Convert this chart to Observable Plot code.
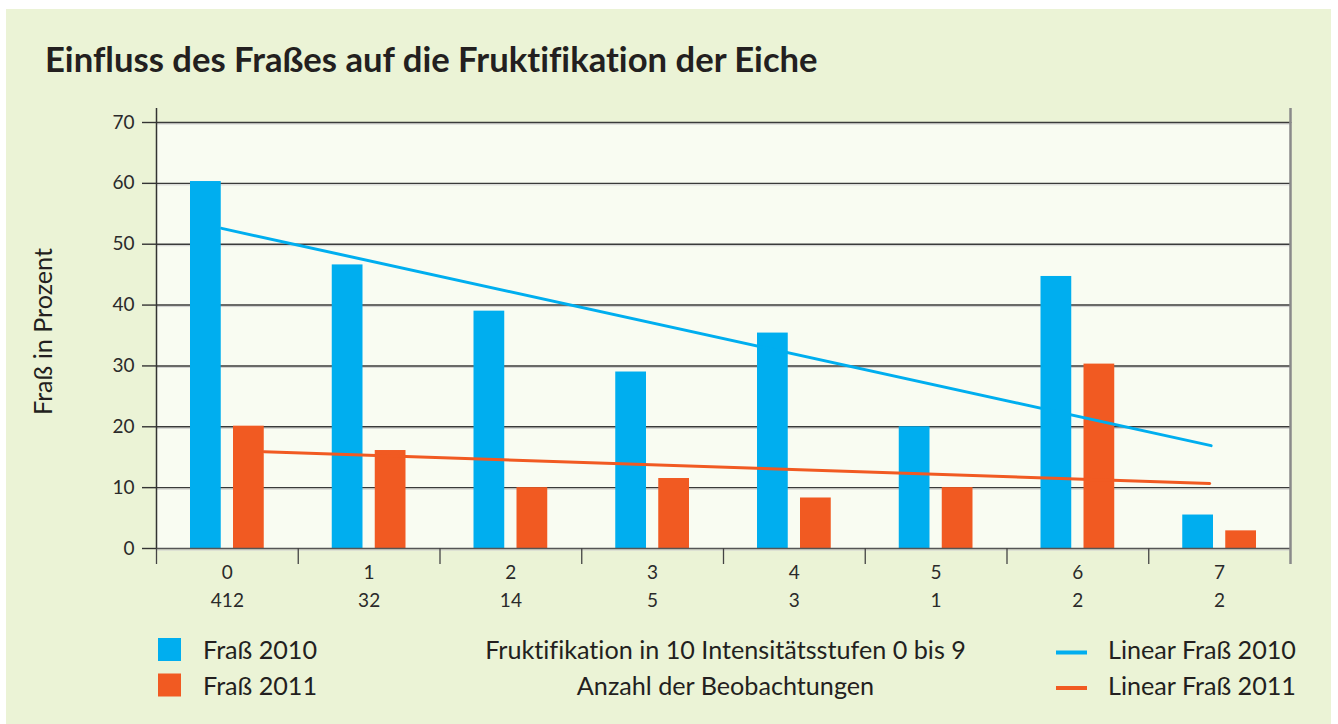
<!DOCTYPE html>
<html>
<head>
<meta charset="utf-8">
<script src="https://cdn.jsdelivr.net/npm/d3@7"></script>
<script src="https://cdn.jsdelivr.net/npm/@observablehq/plot@0.6"></script>
<style>
  html, body { margin: 0; padding: 0; background: #ffffff; }
  body { width: 1338px; height: 724px; position: relative; overflow: hidden; font-family: Lato, "Open Sans", sans-serif; }
  svg, svg text { font-variant-ligatures: none; font-feature-settings: "liga" 0, "clig" 0; }
  #bg { position: absolute; left: 0; top: 0; }
  #chart { position: absolute; left: 6px; top: 95px; }
  #overlay { position: absolute; left: 0; top: 0; pointer-events: none; }
</style>
</head>
<body>
<svg id="bg" width="1338" height="724"><rect x="6" y="9" width="1325" height="715" fill="#ebf3d6"></rect></svg>
<div id="chart"></div>
<svg id="overlay" width="1338" height="724"></svg>
<script>
// ---- data ----
const categories = ["0", "1", "2", "3", "4", "5", "6", "7"];
const observations = ["412", "32", "14", "5", "3", "1", "2", "2"];
const fras2010 = [60.3, 46.6, 39.0, 29.0, 35.4, 20.0, 44.7, 5.5];
const fras2011 = [20.1, 16.1, 10.0, 11.5, 8.3, 10.0, 30.3, 2.9];
const trend2010X = [0.46, 7.44];
const trend2010Y = [52.6, 16.9];
const trend2011X = [0.76, 7.43];
const trend2011Y = [15.9, 10.7];
const yTicks = [0, 10, 20, 30, 40, 50, 60, 70];

const titleText = "Einfluss des Fraßes auf die Fruktifikation der Eiche";
const yLabel = "Fraß in Prozent";
const xTitle1 = "Fruktifikation in 10 Intensitätsstufen 0 bis 9";
const xTitle2 = "Anzahl der Beobachtungen";
const seriesNames = ["Fraß 2010", "Fraß 2011"];
const trendNames = ["Linear Fraß 2010", "Linear Fraß 2011"];

const BLUE = "#00aeef";
const ORANGE = "#f15a22";
const INK = "#231f20";

const rows = categories.map((c, i) => ({i, j: i + 1, m: i + 0.5, c, n: observations[i], a: fras2010[i], b: fras2011[i]}));
const t2010 = trend2010X.map((x, k) => ({x, y: trend2010Y[k]}));
const t2011 = trend2011X.map((x, k) => ({x, y: trend2011Y[k]}));
const boundaries = d3.range(0, categories.length);
const grid = yTicks.filter(v => v > 0);

const chart = Plot.plot({
  width: 1325,
  height: 530,
  marginLeft: 150,
  marginRight: 41,
  marginTop: 27,
  marginBottom: 77,
  x: {type: "linear", domain: [0, categories.length], axis: null},
  y: {domain: [0, 70], axis: null},
  style: {fontFamily: "Lato, sans-serif", background: "transparent", color: INK, overflow: "visible"},
  marks: [
    Plot.frame({fill: "#f9fcf2", stroke: null}),
    Plot.gridY(grid, {stroke: "#cfcfcf", strokeOpacity: 1, strokeWidth: 1, dy: 1.5}),
    Plot.gridY(grid, {stroke: "#3a3a3a", strokeOpacity: 1, strokeWidth: 1.4}),
    Plot.rectY(rows, {x1: "i", x2: "j", y: "a", fill: BLUE, insetLeft: 34, insetRight: 77}),
    Plot.rectY(rows, {x1: "i", x2: "j", y: "b", fill: ORANGE, insetLeft: 77, insetRight: 34}),
    Plot.ruleY([0], {stroke: "#cfcfcf", strokeWidth: 1, dy: 1.5}),
    Plot.ruleY([0], {stroke: "#555", strokeWidth: 1.6}),
    Plot.line(t2010, {x: "x", y: "y", stroke: BLUE, strokeWidth: 3}),
    Plot.line(t2011, {x: "x", y: "y", stroke: ORANGE, strokeWidth: 3}),
    Plot.ruleX([0], {stroke: "#333", strokeWidth: 1.5}),
    Plot.ruleX([categories.length], {stroke: "#8a8a8a", strokeWidth: 2.5}),
    Plot.axisX({ticks: boundaries, tickSize: 16, tickFormat: () => "", stroke: "#444", strokeWidth: 1.3, label: null}),
    Plot.axisX({ticks: [categories.length], tickSize: 16, tickFormat: () => "", stroke: "#8a8a8a", strokeWidth: 2.5, label: null}),
    Plot.axisX({anchor: "top", ticks: [0], tickSize: 15, tickFormat: () => "", stroke: "#333", strokeWidth: 1.5, label: null}),
    Plot.axisX({anchor: "top", ticks: [categories.length], tickSize: 15, tickFormat: () => "", stroke: "#8a8a8a", strokeWidth: 2.5, label: null}),
    Plot.axisY({ticks: yTicks, tickSize: 14, tickPadding: 8, fontSize: 19, stroke: "#333", strokeWidth: 1.4, fill: "#2a2a2a", label: null, tickFormat: d => String(d)}),
    Plot.text(rows, {x: "m", text: "c", frameAnchor: "bottom", dy: 30, fontSize: 19, fill: "#2a2a2a"}),
    Plot.text(rows, {x: "m", text: "n", frameAnchor: "bottom", dy: 58, fontSize: 19, fill: "#2a2a2a"})
  ]
});
document.getElementById("chart").appendChild(chart);

// ---- overlay: title, axis titles, legend ----
const ov = d3.select("#overlay");
function txt(str, x, y, opts = {}) {
  const t = ov.append("text")
    .attr("x", x).attr("y", y)
    .attr("font-family", "Lato, sans-serif")
    .attr("font-size", opts.size || 20)
    .attr("font-weight", opts.weight || 400)
    .attr("fill", INK)
    .style("font-variant-ligatures", "none")
    .text(str);
  if (opts.rotate) t.attr("transform", `rotate(${opts.rotate},${x},${y})`);
  return t;
}
function fitSize(t, target) {
  const fs = +t.attr("font-size");
  const w = t.node().getComputedTextLength();
  return fs * target / w;
}

const title = txt(titleText, 45, 72, {size: 30, weight: 700});
title.attr("font-size", fitSize(title, 773));

const xt1 = txt(xTitle1, 485, 659, {size: 20});
const legendSize = fitSize(xt1, 481);
xt1.attr("font-size", legendSize);
const xt2 = txt(xTitle2, 725.5, 694.5, {size: legendSize}).attr("text-anchor", "middle");
xt1.attr("x", 725.5).attr("text-anchor", "middle");

const yl = txt(yLabel, 52, 331.5, {size: 20, rotate: -90}).attr("text-anchor", "middle");
yl.attr("font-size", fitSize(yl, 167));

const swatchColors = [BLUE, ORANGE];
const rowsY = [659, 694.5];
seriesNames.forEach((s, k) => {
  ov.append("rect").attr("x", 158).attr("y", rowsY[k] - 21).attr("width", 23).attr("height", 23).attr("fill", swatchColors[k]);
  txt(s, 203, rowsY[k], {size: legendSize});
});
trendNames.forEach((s, k) => {
  ov.append("rect").attr("x", 1056).attr("y", rowsY[k] - 8.5).attr("width", 31).attr("height", 4).attr("fill", swatchColors[k]);
  txt(s, 1108, rowsY[k], {size: legendSize});
});
</script>
</body>
</html>
